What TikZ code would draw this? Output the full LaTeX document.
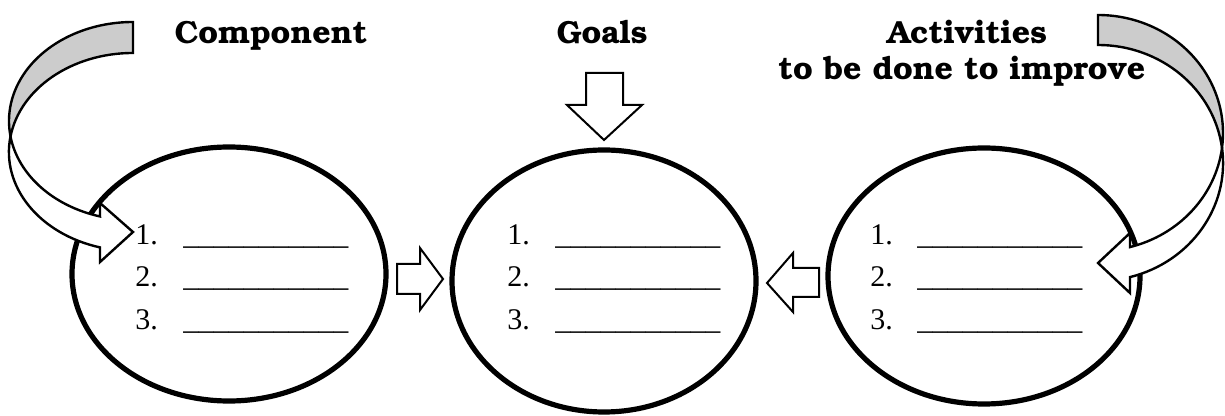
\documentclass[tikz,border=0pt]{standalone}
\usepackage[T1]{fontenc}
\usepackage{fontspec}
\setmainfont{Liberation Serif}
\usepackage{tikz}
\usetikzlibrary{shapes,positioning}
\newcommand{\headfont}{\fontencoding{T1}\fontfamily{pbk}\fontseries{b}\selectfont}
\newcommand{\blankline}{\_\_\_\_\_\_\_\_\_\_\_}
\tikzset{%
	oval/.style       = {draw, ellipse, line width=2.6pt, inner sep=0pt},
	head/.style       = {font=\headfont\fontsize{16}{19}\selectfont, inner sep=0pt, anchor=base},
	item/.style       = {font=\fontsize{15}{18}\selectfont, inner sep=0pt, anchor=base west},
	blockarrow/.style = {draw, fill=white, line width=1pt, line join=miter},
	curvearrow/.style = {draw, line width=1.2pt, line join=miter},
}

\begin{document}
\begin{tikzpicture}[x=0.5pt,y=-0.5pt]
	\useasboundingbox (0,0) rectangle (1225,416);
	
	% the three ovals
	\node[oval, minimum width=157pt, minimum height=127pt] (comp) at (229,274) {};
	\node[oval, minimum width=152pt, minimum height=131pt] (goal) at (604,281) {};
	\node[oval, minimum width=156pt, minimum height=128pt] (act) at (984,276) {};
	
	% headings
	\node[head] (comptitle) at (271,44) {Component};
	\node[head] (goaltitle) at (602,44) {Goals};
	\node[head] (acttitle) at (967,44) {Activities};
	\node[head] (acttitle2) at (962,80) {to be done to improve};
	
	% lists
	\foreach \n/\y in {1/245,2/287,3/329} {
		\node[item] (comp\n) at (135,\y) {\n.};
		\node[item] at (183,\y) {\blankline};
		\node[item] (goal\n) at (507,\y) {\n.};
		\node[item] at (555,\y) {\blankline};
		\node[item] (act\n) at (870,\y) {\n.};
		\node[item] at (917,\y) {\blankline};
	}
	
	% block arrows
	\draw[blockarrow] (397,264) -- (420,264) -- (420,248) -- (443,279) -- (420,310) -- (420,294) -- (397,294) -- cycle;
	\draw[blockarrow] (819,268) -- (793,268) -- (793,253) -- (767,283) -- (793,312) -- (793,297) -- (819,297) -- cycle;
	\draw[blockarrow] (586,73) -- (623,73) -- (623,105) -- (642,105) -- (604,140) -- (567,105) -- (586,105) -- cycle;
	
	% curved arrow on the left
	\draw[curvearrow, fill=black!20] (133,22) arc[start angle=270, end angle=171, x radius=124, y radius=99]
		arc[start angle=189, end angle=270, x radius=124, y radius=99] -- cycle;
	\draw[curvearrow, fill=white] (10.5,136.5) arc[start angle=171, end angle=105.4, x radius=124, y radius=99]
		-- (100,203) -- (133,232) -- (100,262) -- (100,247.4)
		arc[start angle=105.4, end angle=189, x radius=124, y radius=99] -- cycle;
	
	% curved arrow on the right
	\draw[curvearrow, fill=black!20] (1098,15) arc[start angle=-90, end angle=7.3, x radius=125, y radius=118]
		arc[start angle=-7.3, end angle=-90, x radius=125, y radius=118] -- cycle;
	\draw[curvearrow, fill=white] (1222,148) arc[start angle=7.3, end angle=75.2, x radius=125, y radius=118]
		-- (1130,233) -- (1098,263) -- (1130,293) -- (1130,277.1)
		arc[start angle=75.2, end angle=-7.3, x radius=125, y radius=118] -- cycle;
\end{tikzpicture}
\end{document}
